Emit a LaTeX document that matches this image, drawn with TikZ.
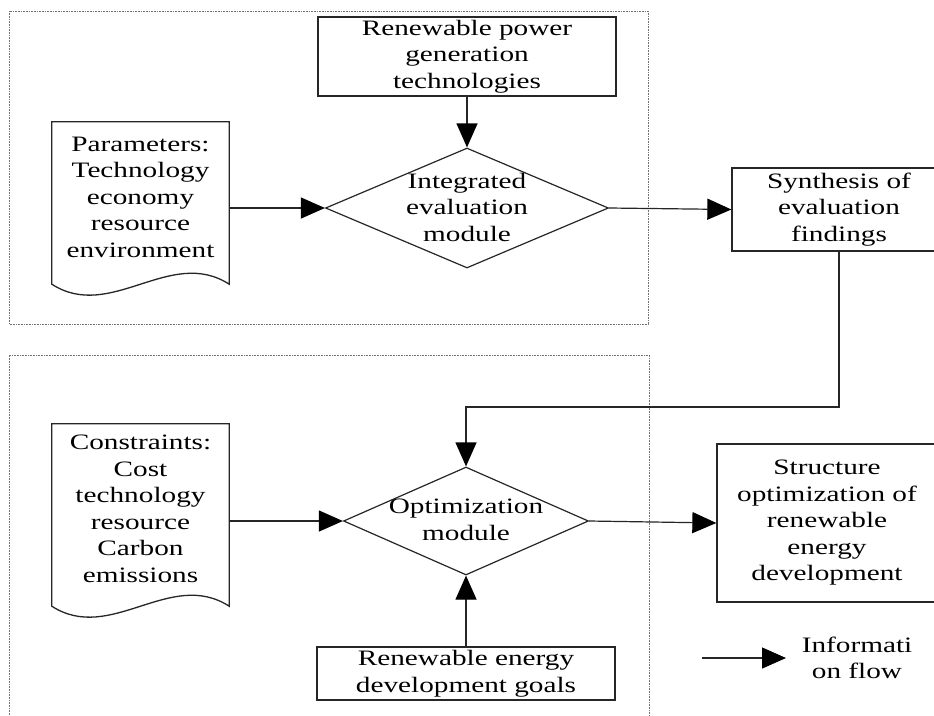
\documentclass[tikz,border=0pt]{standalone}
\usepackage{fontspec}
\setmainfont[FakeStretch=1.33]{Liberation Serif}
\usetikzlibrary{arrows.meta,shapes.geometric,calc}
\begin{document}
\begin{tikzpicture}[x=1pt,y=-1pt,
  txt/.style={font=\fontsize{22}{26.5}\selectfont, align=center, text=black},
  boxnode/.style={txt, draw=black!85, line width=1.3pt, rectangle, inner sep=0pt},
  docnode/.style={txt, inner sep=0pt, rectangle},
  docline/.style={draw=black!85, line width=1.3pt},
  dia/.style={draw=black!85, line width=1.2pt, diamond, inner sep=0pt},
  arr/.style={draw=black!85, line width=1.2pt, -{Triangle[length=24pt,width=21pt,fill=black,color=black]}},
  region/.style={draw=black!55, line width=0.8pt, dash pattern=on 0.8pt off 0.8pt}
]
\useasboundingbox (0,0) rectangle (934,715);
\clip (0,0) rectangle (934,715);
\fill[white] (0,0) rectangle (934,715);

% dotted regions
\draw[region] (9,11) rectangle (648,324);
\draw[region] (9,720) -- (9,355) -- (649,355) -- (649,720);

% top part
\node[boxnode, minimum width=298pt, minimum height=79pt] (rp) at (467,56.5) {Renewable power\\generation\\technologies};
\node[dia, minimum width=283pt, minimum height=120pt] (d1) at (467,208) {};
\node[txt] (d1t) at (467,207) {Integrated\\evaluation\\module};
\node[docnode, minimum width=177pt, minimum height=150pt] (par) at (140.5,197) {Parameters:\\Technology\\economy\\resource\\environment};
\draw[docline] (par.north west) -- (par.north east) -- ($(par.south east)+(0,12)$)
  .. controls ($(par.south east)+(-59,-26)$) and ($(par.south west)+(59,50)$) .. ($(par.south west)+(0,12)$) -- cycle;
\node[boxnode, minimum width=214pt, minimum height=83pt] (syn) at (839,209.5) {Synthesis of\\evaluation\\findings};

% bottom part
\node[dia, minimum width=245pt, minimum height=108pt] (d2) at (466,521) {};
\node[txt] (d2t) at (466,520) {Optimization\\module};
\node[docnode, minimum width=177pt, minimum height=170pt] (cons) at (140.5,509) {Constraints:\\Cost\\technology\\resource\\Carbon\\emissions};
\draw[docline] (cons.north west) -- (cons.north east) -- ($(cons.south east)+(0,12)$)
  .. controls ($(cons.south east)+(-59,-26)$) and ($(cons.south west)+(59,50)$) .. ($(cons.south west)+(0,12)$) -- cycle;
\node[boxnode, minimum width=220pt, minimum height=158pt] (st) at (827,523) {Structure\\optimization of\\renewable\\energy\\development};
\node[boxnode, minimum width=298pt, minimum height=53pt] (goals) at (466,673.5) {Renewable energy\\development goals};

% connectors
\draw[arr] (rp.south) -- (d1.north);
\draw[arr] (par.east |- d1.west) -- (d1.west);
\draw[arr] (d1.east) -- (syn.west);
\coordinate (j) at (466,407);
\draw[arr] (syn.south) |- (j) -- (d2.north);
\draw[arr] (cons.east |- d2.west) -- (d2.west);
\draw[arr] (d2.east) -- (st.west);
\draw[arr] (goals.north) -- (d2.south);

% legend
\coordinate (la) at (702,658);
\coordinate (lb) at (786,658);
\draw[arr] (la) -- (lb);
\node[txt] (leg) at (857,658) {Informati\\on flow};
\end{tikzpicture}
\end{document}
